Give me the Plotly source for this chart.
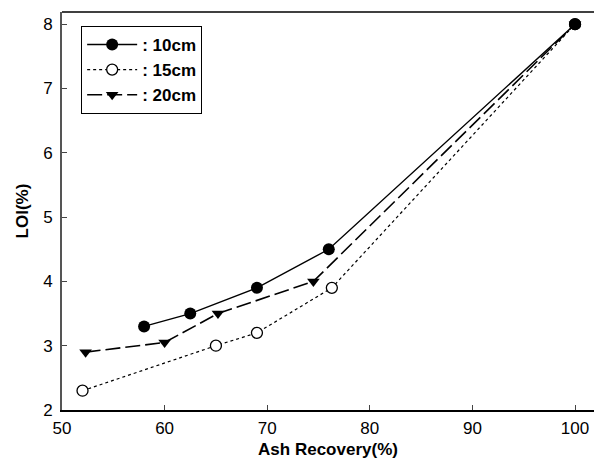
import plotly.graph_objects as go

# Data
x_10 = [58, 62.5, 69, 76, 100]
y_10 = [3.3, 3.5, 3.9, 4.5, 8.0]
x_15 = [52, 65, 69, 76.3, 100]
y_15 = [2.3, 3.0, 3.2, 3.9, 8.0]
x_20 = [52.3, 60, 65.2, 74.5, 100]
y_20 = [2.9, 3.05, 3.5, 4.0, 8.0]
names = [": 10cm", ": 15cm", ": 20cm"]
x_ticks = [50, 60, 70, 80, 90, 100]
y_ticks = [2, 3, 4, 5, 6, 7, 8]

fig = go.Figure()
fig.add_trace(go.Scatter(x=x_20, y=y_20, name="<b>" + names[2] + "</b>", mode="lines+markers",
                         line=dict(color="black", width=1.6, dash="15px,5px"),
                         marker=dict(symbol="triangle-down", size=11, color="black")))
fig.add_trace(go.Scatter(x=x_15, y=y_15, name="<b>" + names[1] + "</b>", mode="lines+markers",
                         line=dict(color="black", width=1.2, dash="dot"),
                         marker=dict(symbol="circle", size=11, color="white",
                                     line=dict(width=1.3, color="black"))))
fig.add_trace(go.Scatter(x=x_10, y=y_10, name="<b>" + names[0] + "</b>", mode="lines+markers",
                         line=dict(color="black", width=1.4),
                         marker=dict(symbol="circle", size=12, color="black")))

fig.update_layout(
    width=594, height=462,
    margin=dict(l=62, r=0, t=12, b=52),
    paper_bgcolor="white", plot_bgcolor="white",
    font=dict(family="Liberation Sans, Arial", color="black", size=17),
    legend=dict(traceorder="reversed", x=0.036, y=0.965, xanchor="left", yanchor="top",
                bordercolor="black", borderwidth=1, bgcolor="white",
                font=dict(size=17, family="Liberation Sans, Arial"),
                itemwidth=50, tracegroupgap=0),
    showlegend=True,
)
fig.update_xaxes(range=[50, 101.85], tickvals=x_ticks, ticks="inside", ticklen=5,
                 tickfont=dict(size=17), ticklabelstandoff=2,
                 showgrid=False, zeroline=False, showline=True, linecolor="black",
                 linewidth=1.5, mirror=False,
                 title=dict(text="<b>Ash Recovery(%)</b>", standoff=6,
                            font=dict(size=17)))
fig.update_yaxes(range=[2, 8.19], tickvals=y_ticks, ticks="inside", ticklen=5,
                 tickfont=dict(size=17), ticklabelstandoff=4,
                 showgrid=False, zeroline=False, showline=True, linecolor="#555",
                 linewidth=1.8, mirror=False,
                 title=dict(text="<b>LOI(%)</b>", standoff=10, font=dict(size=17)))
# top border line
fig.add_shape(type="line", xref="paper", yref="paper", x0=0, x1=1, y0=1, y1=1,
              line=dict(color="black", width=1.5))

fig.write_html("out.html")
